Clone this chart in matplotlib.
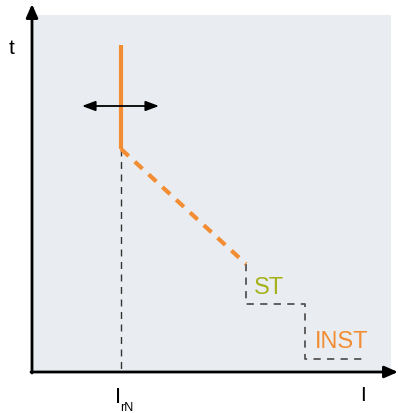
import matplotlib
matplotlib.use("Agg")
import matplotlib.pyplot as plt
from matplotlib.patches import Rectangle

# Data (schematic coordinates, pixel-like units; y grows downward)
lt_x = [121, 121]            # long-time vertical (solid orange)
lt_y = [46, 150]
slope_x = [121, 246]         # inverse-time slope (dashed orange)
slope_y = [150, 265]
irn_x = [121, 121]           # I_rN drop line
irn_y = [150, 373]
step_x = [246, 246, 305, 305, 362]   # ST / INST steps (dashed grey)
step_y = [265, 305, 305, 360, 360]
arrow_x = [82, 159]
arrow_y = 107
labels = {"ST": (254, 288), "INST": (315, 342)}

fig = plt.figure(figsize=(3.98, 4.14), dpi=100)
ax = fig.add_axes([0, 0, 1, 1])
ax.set_xlim(0, 398)
ax.set_ylim(414, 0)
ax.axis("off")

ax.add_patch(Rectangle((33, 16), 358, 357, facecolor="#e9edf1", edgecolor="none", zorder=0))

# axes with arrows
ax.annotate("", xy=(32, 5), xytext=(32, 374),
            arrowprops=dict(arrowstyle="-|>,head_length=0.8,head_width=0.35", color="black", lw=2, shrinkA=0, shrinkB=0))
ax.annotate("", xy=(398, 373), xytext=(31, 373),
            arrowprops=dict(arrowstyle="-|>,head_length=0.8,head_width=0.35", color="black", lw=2, shrinkA=0, shrinkB=0))

orange = "#f28d33"
ax.plot(irn_x, irn_y, color="#333333", lw=1, ls=(0, (5, 4)), zorder=2)
ax.plot(step_x, step_y, color="#555555", lw=1.3, ls=(0, (4, 3.5)), zorder=2)
ax.plot(lt_x, lt_y, color=orange, lw=3, solid_capstyle="butt", zorder=3)
ax.plot(slope_x, slope_y, color=orange, lw=3, ls=(0, (2.5, 2)), zorder=3)

ax.annotate("", xy=(arrow_x[0], arrow_y), xytext=(arrow_x[1], arrow_y),
            arrowprops=dict(arrowstyle="<|-|>,head_length=0.8,head_width=0.3", color="black", lw=1.3, shrinkA=0, shrinkB=0), zorder=4)

fam = "Liberation Sans"
ax.text(labels["ST"][0], labels["ST"][1], "ST", color="#a6b21c", fontsize=17, ha="left", va="center", family=fam)
ax.text(labels["INST"][0], labels["INST"][1], "INST", color=orange, fontsize=17, ha="left", va="center", family=fam)
ax.text(12, 49, "t", fontsize=15, ha="center", va="center", family=fam)
ax.text(363, 396, "I", fontsize=15, ha="center", va="center", family=fam)
ax.text(118, 398, "I", fontsize=16, ha="center", va="center", family=fam)
ax.text(120, 408, "rN", fontsize=9, ha="left", va="center", family=fam)

fig.savefig("out.png", dpi=100)
